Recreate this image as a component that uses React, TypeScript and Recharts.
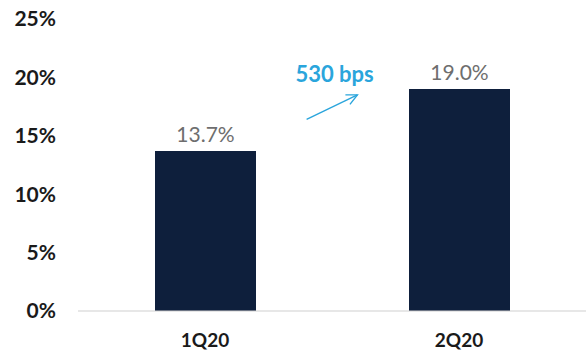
import { ComposedChart, Bar, XAxis, YAxis, LabelList, ReferenceLine, ReferenceDot } from 'recharts';

const quarters = ['1Q20', '2Q20'];
const marginPct = [13.7, 19.0];
const yTicks = [0, 5, 10, 15, 20, 25];
const changeLabel = '530 bps';

const NAVY = '#0E1F3C';
const BLUE = '#2AA5DC';
const FONT = 'Lato, "DejaVu Sans", sans-serif';

const rows = quarters.map((q, i) => ({ q, v: marginPct[i] }));

// arrow drawn from the segment end points
const Arrow = (p: any) => {
  const { x1, y1, x2, y2 } = p;
  if (x1 == null) return null;
  const a = Math.atan2(y2 - y1, x2 - x1);
  const L = 12;
  const s = 0.45;
  const ax = x2 - L * Math.cos(a - s), ay = y2 - L * Math.sin(a - s);
  const bx = x2 - L * Math.cos(a + s), by = y2 - L * Math.sin(a + s);
  return (
    <g stroke={BLUE} strokeWidth={1.4} fill="none">
      <line x1={x1} y1={y1} x2={x2} y2={y2} />
      <polyline points={`${ax},${ay} ${x2},${y2} ${bx},${by}`} />
    </g>
  );
};

export default function App() {
  return (
    <div style={{ position: 'fixed', left: 0, top: 0, width: 586, height: 356, background: '#fff' }}>
      <ComposedChart width={586} height={356} data={rows} margin={{ top: 19, right: 0, bottom: 0, left: 0 }}>
        <XAxis
          dataKey="q"
          height={45}
          tickLine={false}
          axisLine={{ stroke: '#CFCFCF' }}
          tick={{ fontSize: 19, fontWeight: 700, fill: '#1A1A1A', fontFamily: FONT }}
          tickMargin={17}
        />
        <XAxis xAxisId="pos" type="number" domain={[0, 1]} allowDataOverflow hide />
        <YAxis
          domain={[0, 25]}
          ticks={yTicks}
          width={78}
          axisLine={false}
          tickLine={false}
          tickMargin={16}
          tickFormatter={(v: number) => `${v}%`}
          tick={{ fontSize: 21, fontWeight: 700, fill: '#1A1A1A', fontFamily: FONT }}
        />
        <Bar dataKey="v" fill={NAVY} barSize={101} isAnimationActive={false}>
          <LabelList
            dataKey="v"
            position="top"
            offset={9}
            formatter={(v: any) => `${Number(v).toFixed(1)}%`}
            style={{ fontSize: 21, fill: '#6E6E6E', fontFamily: FONT }}
          />
        </Bar>
        <ReferenceLine
          xAxisId="pos"
          segment={[{ x: 0.45, y: 16.4 }, { x: 0.55, y: 18.5 }]}
          shape={Arrow}
          ifOverflow="visible"
        />
        <ReferenceDot
          xAxisId="pos"
          x={0.505}
          y={20.3}
          r={0}
          fill="none"
          stroke="none"
          label={{ value: changeLabel, position: 'center', fontSize: 22, fontWeight: 700, fill: BLUE, fontFamily: FONT }}
        />
      </ComposedChart>
    </div>
  );
}
